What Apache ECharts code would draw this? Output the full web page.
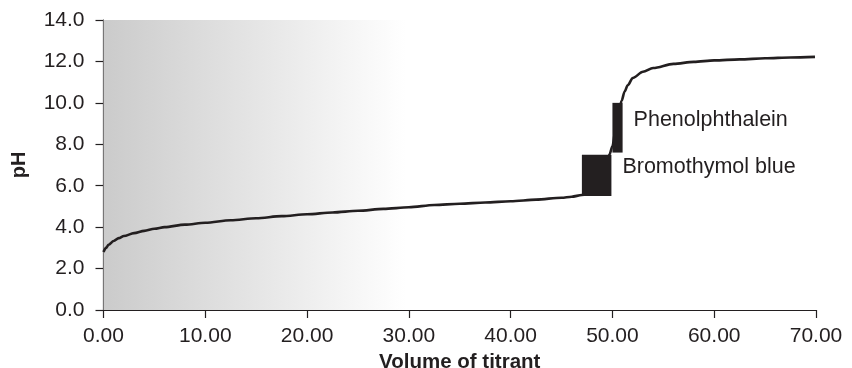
<!DOCTYPE html>
<html><head><meta charset="utf-8">
<script src="https://cdn.jsdelivr.net/npm/echarts@6/dist/echarts.min.js"></script>
<style>html,body{margin:0;padding:0;background:#fff}#c{width:852px;height:368px}</style>
</head><body><div id="c"></div>
<script>
// Titration curve (volume, pH)
const volume = [0, 0.25, 0.5, 1, 1.5, 2, 3, 4, 5, 6, 8, 10, 12.5, 15, 17.5, 20, 22.5, 25, 27.5, 30, 32.5, 35, 37.5, 40, 42.5, 45, 46, 47, 48, 48.8, 49.2, 49.5, 49.7, 50, 50.3, 50.6, 50.9, 51.2, 51.5, 52, 53, 54, 56, 58, 60, 62.5, 65, 67.5, 69.9];
const pH =     [2.8, 3.0, 3.15, 3.33, 3.47, 3.57, 3.71, 3.82, 3.92, 4.0, 4.12, 4.21, 4.33, 4.43, 4.53, 4.62, 4.71, 4.79, 4.88, 4.96, 5.07, 5.13, 5.19, 5.25, 5.33, 5.42, 5.47, 5.55, 5.7, 6.0, 6.5, 7.1, 7.5, 7.9, 8.7, 9.5, 10.1, 10.55, 10.85, 11.2, 11.5, 11.68, 11.88, 11.98, 12.05, 12.1, 12.15, 12.19, 12.22];
// Indicator transition ranges
const indicatorNames = ['Bromothymol blue', 'Phenolphthalein'];
const indicatorVolFrom = [47.0, 50.0];
const indicatorVolTo = [49.9, 51.0];
const indicatorPHFrom = [5.5, 7.6];
const indicatorPHTo = [7.5, 10.0];
// Shaded region
const shadeFrom = 0, shadeTo = 29.7;

const curve = volume.map((v, i) => [v, pH[i]]);
const boxes = indicatorNames.map((n, i) => [indicatorVolFrom[i], indicatorVolTo[i], indicatorPHFrom[i], indicatorPHTo[i], n]);

const ink = '#231f20';
const font = '"Liberation Sans", Arial, Helvetica, sans-serif';
const chart = echarts.init(document.getElementById('c'), null, {renderer: 'canvas'});
chart.setOption({
  animation: false,
  grid: {left: 103.5, right: 36, top: 20, bottom: 58, containLabel: false, outerBoundsMode: 'none'},
  xAxis: {
    type: 'value', min: 0, max: 70, interval: 10,
    name: 'Volume of titrant', nameLocation: 'middle', nameGap: 41,
    nameTextStyle: {fontFamily: font, fontWeight: 'bold', fontSize: 20.5, color: ink},
    axisLine: {lineStyle: {color: ink, width: 1.2}},
    axisTick: {show: true, length: 8, lineStyle: {color: ink, width: 1.2}},
    axisLabel: {fontFamily: font, fontSize: 21, color: ink, margin: 16,
      formatter: v => v.toFixed(2)},
    splitLine: {show: false}
  },
  yAxis: {
    type: 'value', min: 0, max: 14, interval: 2,
    name: 'pH', nameLocation: 'middle', nameGap: 74, nameRotate: 90,
    nameTextStyle: {fontFamily: font, fontWeight: 'bold', fontSize: 20, color: ink},
    axisLine: {show: true, lineStyle: {color: ink, width: 1.2}},
    axisTick: {show: true, length: 8, lineStyle: {color: ink, width: 1.2}},
    axisLabel: {fontFamily: font, fontSize: 21, color: ink, margin: 19,
      formatter: v => v.toFixed(1)},
    splitLine: {show: false}
  },
  series: [
    {
      type: 'line', data: curve, smooth: 0.3, smoothMonotone: 'x', showSymbol: false, symbol: 'none',
      lineStyle: {color: ink, width: 2.6}, z: 3,
      markArea: {
        silent: true,
        itemStyle: {
          color: new echarts.graphic.LinearGradient(0, 0, 1, 0, [
            {offset: 0, color: '#cbcbcb'}, {offset: 1, color: '#ffffff'}
          ])
        },
        data: [[{coord: [shadeFrom, 0]}, {coord: [shadeTo, 14]}]]
      }
    },
    {
      type: 'custom', z: 5, data: boxes,
      renderItem: function (params, api) {
        const p0 = api.coord([api.value(0), api.value(3)]);
        const p1 = api.coord([api.value(1), api.value(2)]);
        const name = boxes[params.dataIndex][4];
        return {
          type: 'group',
          children: [
            {type: 'rect', shape: {x: p0[0], y: p0[1], width: p1[0] - p0[0], height: p1[1] - p0[1]},
             style: {fill: ink}},
            {type: 'text', x: p1[0] + 11, y: (p0[1] + p1[1]) / 2 - 8,
             style: {text: name, fill: ink, font: '21.5px ' + font, textAlign: 'left', textVerticalAlign: 'middle'}}
          ]
        };
      }
    }
  ]
});
</script></body></html>
